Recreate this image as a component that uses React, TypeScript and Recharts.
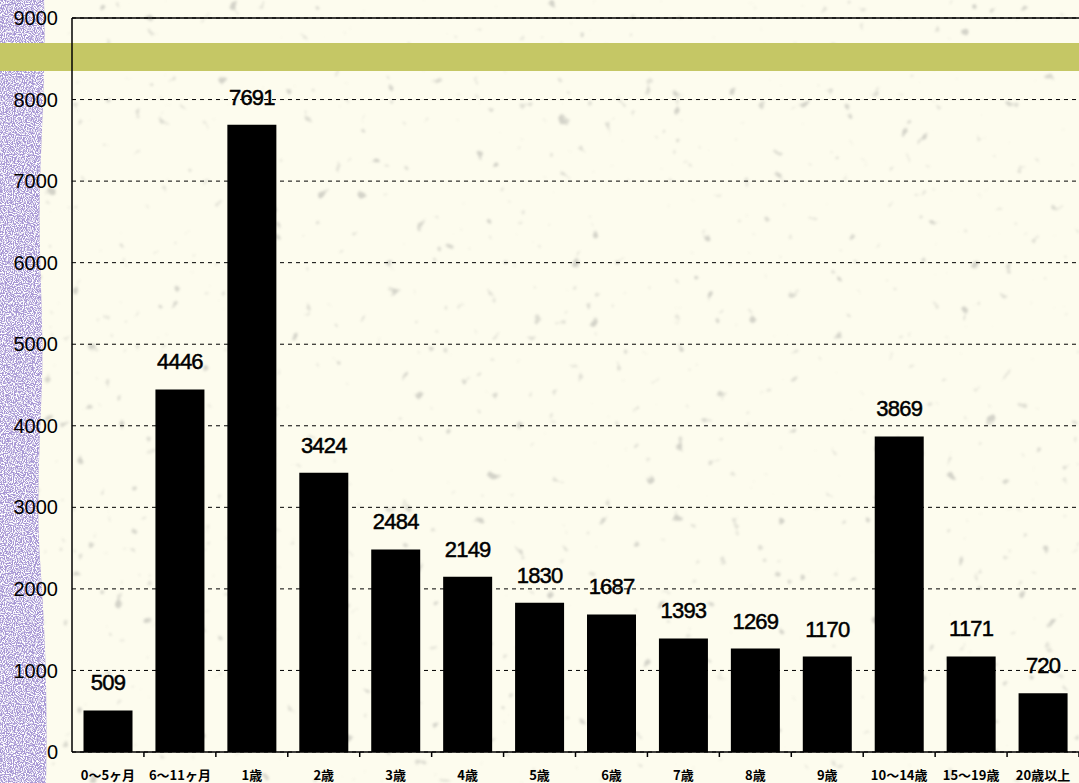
import { BarChart, Bar, XAxis, YAxis, CartesianGrid, ReferenceLine, LabelList } from "recharts";

const categories = [
  "0～5ヶ月",
  "6～11ヶ月",
  "1歳",
  "2歳",
  "3歳",
  "4歳",
  "5歳",
  "6歳",
  "7歳",
  "8歳",
  "9歳",
  "10～14歳",
  "15～19歳",
  "20歳以上",
];
const counts = [509, 4446, 7691, 3424, 2484, 2149, 1830, 1687, 1393, 1269, 1170, 3869, 1171, 720];
const yTicks = [0, 1000, 2000, 3000, 4000, 5000, 6000, 7000, 8000, 9000];

const data = categories.map((name, i) => ({ name, count: counts[i] }));

const W = 1079;
const H = 783;
const PLOT_W = W - 72;
const BAND = PLOT_W / categories.length;

const STRIP =
  "M0,0 L44,0 C46,60 42,120 40,180 C38,260 44,320 42,380 C40,440 36,500 40,560 C44,620 48,680 46,783 L0,783 Z";

function CategoryTick({ x, y, payload }: any) {
  return (
    <g>
      <line x1={x + BAND / 2} x2={x + BAND / 2} y1={y} y2={y + 5} stroke="#000" strokeWidth={1.5} />
      <text
        x={x}
        y={y + 28}
        textAnchor="middle"
        fontSize={13}
        fontWeight={700}
        fontFamily="'Noto Sans CJK JP', sans-serif"
        fill="#000"
      >
        {payload.value}
      </text>
    </g>
  );
}

// paper texture, purple strip and green band behind the chart
function Backdrop() {
  return (
    <svg width={W} height={H} style={{ position: "absolute", left: 0, top: 0 }}>
      <defs>
        <filter id="speckle" x="0" y="0" width="100%" height="100%">
          <feTurbulence type="fractalNoise" baseFrequency="0.07" numOctaves={2} seed={7} />
          <feColorMatrix
            type="matrix"
            values="0 0 0 0 0.3  0 0 0 0 0.3  0 0 0 0 0.28  9 0 0 0 -6.4"
          />
          <feGaussianBlur stdDeviation={0.8} />
        </filter>
        <filter id="grain" x="0" y="0" width="100%" height="100%">
          <feTurbulence type="fractalNoise" baseFrequency="0.9" numOctaves={1} seed={3} />
          <feColorMatrix
            type="matrix"
            values="0 0 0 0 1  0 0 0 0 1  0 0 0 0 1  6 0 0 0 -2.6"
          />
        </filter>
        <clipPath id="stripClip">
          <path d={STRIP} />
        </clipPath>
      </defs>
      <rect x={0} y={0} width={W} height={H} fill="#fdfcee" />
      <rect x={0} y={0} width={W} height={H} filter="url(#speckle)" opacity={0.4} />
      <path d={STRIP} fill="#a797d4" />
      <rect x={0} y={0} width={50} height={H} filter="url(#grain)" clipPath="url(#stripClip)" />
      <rect x={0} y={43} width={W} height={28} fill="#c5c765" />
    </svg>
  );
}

export default function App() {
  return (
    <div style={{ position: "absolute", left: 0, top: 0, width: W, height: H, overflow: "hidden" }}>
      <Backdrop />
      <div style={{ position: "absolute", left: 0, top: 0 }}>
        <BarChart
          width={W}
          height={H}
          data={data}
          margin={{ top: 18, right: 0, left: 0, bottom: 0 }}
          barCategoryGap="16%"
        >
          <CartesianGrid vertical={false} stroke="#000" strokeDasharray="4 4" />
          <ReferenceLine y={9000} stroke="#000" strokeWidth={1.5} />
          <XAxis
            dataKey="name"
            interval={0}
            height={31}
            axisLine={{ stroke: "#000", strokeWidth: 1.5 }}
            tickLine={false}
            tickSize={0}
            tickMargin={0}
            tick={<CategoryTick />}
          />
          <YAxis
            width={72}
            domain={[0, 9000]}
            ticks={yTicks}
            interval={0}
            axisLine={{ stroke: "#000", strokeWidth: 1.5 }}
            tickLine={false}
            tickSize={6}
            tickMargin={8}
            tick={{ fill: "#000", fontSize: 20, fontFamily: "'Liberation Sans', Arial, sans-serif" }}
          />
          <Bar dataKey="count" fill="#000" isAnimationActive={false}>
            <LabelList
              dataKey="count"
              position="top"
              offset={20}
              fill="#000"
              stroke="#000"
              strokeWidth={0.5}
              fontSize={22}
              fontFamily="'Liberation Sans', Arial, sans-serif"
              style={{ letterSpacing: "-0.8px" }}
            />
          </Bar>
        </BarChart>
      </div>
    </div>
  );
}
